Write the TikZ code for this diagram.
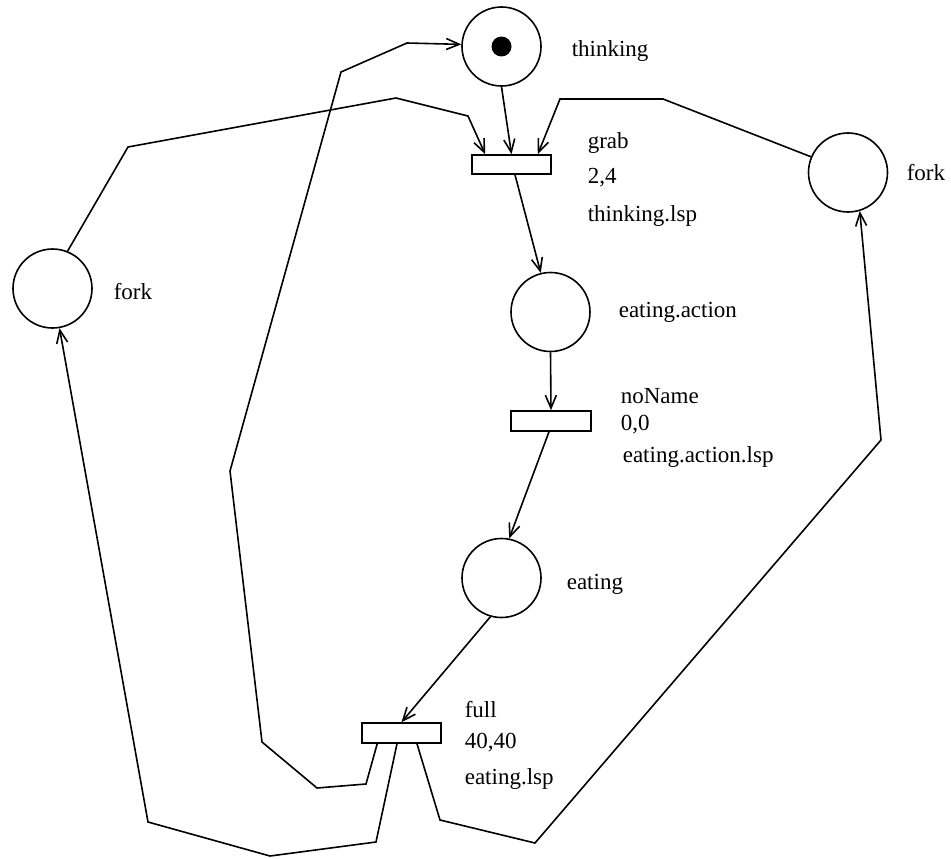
\documentclass[tikz,border=0pt]{standalone}
\usepackage{fontspec}
\setmainfont{Liberation Serif}
\usetikzlibrary{arrows.meta}
\begin{document}
\begin{tikzpicture}[x=1pt,y=-1pt,line width=1.6pt,
  place/.style={draw,circle,minimum size=79pt,inner sep=0pt},
  trans/.style={draw,rectangle,minimum width=79pt,minimum height=19pt,inner sep=0pt},
  lbl/.style={anchor=base west,inner sep=0pt,font=\fontsize{23}{27}\selectfont},
  arc/.style={-{Straight Barb[length=13pt,width=11pt,line width=1.6pt]}},
  line/.style={line join=miter}]
\useasboundingbox (0,0) rectangle (951,859);
% places
\node[place] (thinking) at (501.5,46.5) {};
\fill (501.5,46.5) circle (10);
\node[place] (rfork) at (848,172.5) {};
\node[place] (lfork) at (52.5,288.5) {};
\node[place] (eatact) at (550.5,312) {};
\node[place] (eating) at (501.5,578) {};
% transitions
\node[trans] (grab) at (511.5,164.5) {};
\node[trans,minimum width=80pt,minimum height=20pt] (noname) at (551,421) {};
\node[trans,minimum height=20pt] (full) at (401.5,733) {};
% labels
\node[lbl] (lthinking) at (571,57) {thinking};
\node[lbl] (lgrab) at (587,148) {grab};
\node[lbl] (lgrabw) at (587,183) {2,4};
\node[lbl] (lgrabf) at (587,221) {thinking.lsp};
\node[lbl] (llfork) at (113,299) {fork};
\node[lbl] (lrfork) at (906,180) {fork};
\node[lbl] (leatact) at (618,317) {eating.action};
\node[lbl] (lnoname) at (620,403) {noName};
\node[lbl] (lnonamew) at (620,430) {0,0};
\node[lbl] (lnonamef) at (622,462) {eating.action.lsp};
\node[lbl] (leating) at (566,589) {eating};
\node[lbl] (lfull) at (464,717) {full};
\node[lbl] (lfullw) at (464,748) {40,40};
\node[lbl] (lfullf) at (464,784) {eating.lsp};
% arcs
\draw[arc] (thinking.south) -- (grab.north);
\draw[arc,line] (lfork.68) -- (128,147) -- (396,98) -- (468,116) -- ([xshift=14pt]grab.north west);
\draw[arc,line] (rfork.157) -- (663,99) -- (560,99) -- ([xshift=-14pt]grab.north east);
\draw[arc] ([xshift=3.5pt]grab.south) -- (eatact.104);
\draw[arc] (eatact.south) -- (noname.north);
\draw[arc] ([xshift=-2pt]noname.south) -- (eating.79);
\draw[arc] (eating.254) -- (full.north);
\draw[arc,line] ([xshift=16pt]full.south west) -- (366,784) -- (317,788) -- (262,742) -- (230,471) -- (341,72) -- (407,43) -- (thinking.177);
\draw[arc,line] ([xshift=-4.5pt]full.south) -- (376,842) -- (270,856) -- (148,822) -- (lfork.-80);
\draw[arc,line] ([xshift=15.5pt]full.south) -- (440,820) -- (535,843) -- (881,440) -- (rfork.-73);
\end{tikzpicture}
\end{document}
